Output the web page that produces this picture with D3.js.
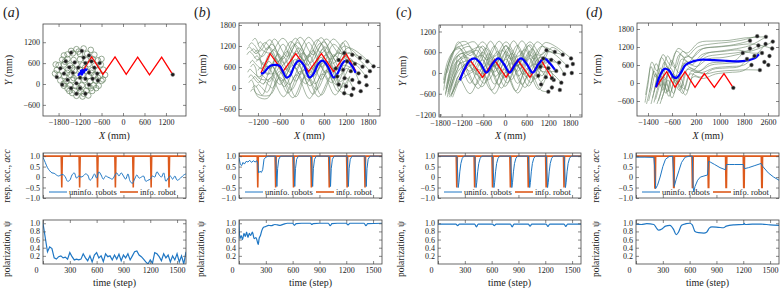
<!DOCTYPE html>
<html><head><meta charset="utf-8">
<script src="https://cdn.jsdelivr.net/npm/d3@7"></script>
<style>
body{margin:0;background:#fff;}
text{font-family:"Liberation Serif","Times New Roman",serif;}
</style></head><body>
<script>
// ---------------- data: trajectories (mm) ----------------
// (a) looping robots: loop centres, final robot positions, informed robot path, group path
const loopsA = [[-1300,1000],[-1100,1020],[-900,980],[-1550,850],[-1400,880],[-1200,860],[-1000,870],[-800,840],
  [-1700,700],[-1550,720],[-1380,690],[-1200,710],[-1030,690],[-850,720],[-700,680],
  [-1800,540],[-1650,560],[-1480,530],[-1300,560],[-1130,540],[-960,570],[-780,530],[-620,560],
  [-1850,400],[-1700,380],[-1530,410],[-1360,390],[-1200,410],[-1030,380],[-860,400],[-700,390],[-550,410],
  [-1800,250],[-1640,230],[-1470,260],[-1300,240],[-1130,260],[-960,230],[-800,250],[-640,240],[-500,260],
  [-1750,100],[-1580,80],[-1420,110],[-1250,90],[-1080,110],[-920,80],[-760,100],[-600,90],
  [-1650,-50],[-1480,-40],[-1320,-60],[-1150,-40],[-980,-60],[-820,-40],[-680,-50],
  [-1500,-200],[-1350,-190],[-1180,-210],[-1020,-190],[-860,-200],[-1300,-340],[-1130,-360],[-970,-330],
  [-1450,950],[-1650,820],[-1880,560],[-1900,300],[-1550,-130],[-750,-120],[-560,130],[-600,720],
  [-1240,930],[-1620,640],[-1420,460],[-1060,470],[-1560,320],[-880,320],[-1380,170],[-700,180],
  [-1660,10],[-1220,-120],[-900,-120],[-1420,-260],[-1100,-280]];
const robotsA = [[-1450,900],[-1150,950],[-950,820],[-1600,650],[-1350,620],[-1100,760],[-880,650],[-1750,450],
  [-1500,480],[-1250,470],[-1050,600],[-800,470],[-650,600],[-1650,300],[-1400,320],[-1200,180],[-950,330],
  [-720,300],[-1550,120],[-1300,20],[-1050,150],[-850,150],[-1700,-20],[-1450,-120],[-1200,-120],[-950,-20],
  [-1300,-280],[-1050,-280],[-700,100],[-1850,200],[1390,270]];
const leaderA = [[-1150,330],[-875,780],[-560,275],[-223,780],[90,275],[410,770],[740,265],[1080,770],[1390,270]];
const groupA = [[-1250,230],[-1200,320],[-1150,270],[-1120,400],[-1180,380],[-1100,330],[-1050,420],[-1000,390]];

// (b)
const greenB = [
 [[-1450,1200],[-1380,1290],[-1300,1230],[-1150,1050],[-880,1380],[-540,820],[-180,1420],[170,880],[520,1440],[870,900],[1180,1350],[1370,950]],
 [[-1500,950],[-1430,1040],[-1360,980],[-1200,800],[-900,1180],[-560,620],[-200,1250],[150,650],[500,1280],[850,700],[1150,1200],[1580,860]],
 [[-1420,700],[-1350,790],[-1290,720],[-1100,560],[-860,1000],[-500,420],[-150,1050],[200,430],[560,1100],[900,480],[1220,1000],[1780,760]],
 [[-1480,450],[-1420,540],[-1350,470],[-1150,320],[-900,760],[-550,200],[-180,820],[170,220],[520,880],[860,260],[1200,800],[1650,610]],
 [[-1350,250],[-1290,330],[-1230,260],[-1050,120],[-820,620],[-480,40],[-130,680],[220,60],[580,720],[920,100],[1200,560],[1330,480]],
 [[-1250,20],[-1190,100],[-1120,40],[-950,-120],[-700,420],[-380,-150],[-50,480],[300,-180],[650,500],[980,-100],[1200,300],[1400,-20]],
 [[-1400,1050],[-1320,1120],[-1250,1050],[-1080,900],[-820,1250],[-480,700],[-120,1300],[230,720],[600,1320],[940,760],[1260,1150],[1950,620]],
 [[-1300,850],[-1230,920],[-1170,860],[-1000,650],[-780,1100],[-430,520],[-90,1150],[270,540],[620,1180],[970,560],[1280,1000],[1850,480]],
 [[-1200,500],[-1140,580],[-1080,520],[-920,380],[-720,850],[-400,300],[-60,900],[300,320],[650,950],[1000,340],[1300,780],[1740,330]],
 [[-1150,300],[-1090,370],[-1030,310],[-880,180],[-680,650],[-350,100],[0,700],[350,120],[700,760],[1050,180],[1330,620],[1560,160]],
 [[-1050,100],[-1000,180],[-940,120],[-800,0],[-620,480],[-300,-60],[40,520],[400,-40],[740,560],[1080,20],[1300,330],[1200,50]],
 [[-1100,650],[-1050,730],[-990,680],[-850,560],[-650,980],[-330,450],[20,1000],[380,470],[730,1040],[1080,480],[1300,850],[1440,690]],
 [[-1500,1100],[-1440,1180],[-1380,1120],[-1250,980],[-1000,1300],[-650,750],[-300,1330],[60,780],[420,1380],[780,820],[1120,1300],[1230,760]],
 [[-1350,0],[-1290,70],[-1230,10],[-1080,-200],[-850,300],[-500,-250],[-150,380],[200,-300],[560,400],[900,-200],[1150,150],[1150,-150]],
 [[-1200,1250],[-1140,1320],[-1080,1260],[-950,1100],[-750,1400],[-400,900],[-50,1450],[300,950],[660,1400],[1000,1000],[1150,1000]],
 [[-1450,300],[-1390,380],[-1330,310],[-1180,150],[-950,620],[-600,100],[-250,650],[100,120],[450,700],[800,150],[1120,650],[1540,420]],
 [[-1400,600],[-1330,680],[-1260,560],[-1200,300],[-900,250],[-520,900],[-170,200],[180,950],[530,250],[860,950],[1100,600],[1160,280]],
 [[-1300,1000],[-1230,1080],[-1170,990],[-1100,700],[-870,600],[-520,1250],[-170,550],[180,1300],[530,600],[860,1250],[1230,760]],
 [[-1450,150],[-1380,230],[-1320,120],[-1250,-150],[-870,-200],[-520,500],[-170,-250],[180,550],[530,-200],[860,500],[1000,100]],
 [[-1350,1350],[-1280,1420],[-1220,1330],[-1150,1150],[-870,1000],[-520,1420],[-170,950],[180,1450],[530,1000],[860,1400],[1150,1000]],
 [[-1250,750],[-1180,830],[-1120,720],[-1050,480],[-750,420],[-400,1050],[-50,380],[300,1080],[650,420],[960,1000],[1440,690]],
 [[-1400,-100],[-1330,-20],[-1270,-130],[-1200,-250],[-950,-300],[-600,300],[-250,-280],[100,350],[450,-250],[800,350],[1050,-100],[1350,-200]]
];
const robotsB = [[1150,1000],[1370,950],[1580,860],[1780,760],[1950,620],[1000,800],[1230,760],[1440,690],[1650,610],
  [1850,480],[920,560],[1120,520],[1330,480],[1540,420],[1740,330],[960,330],[1160,280],[1370,230],[1560,160],
  [1760,80],[1000,100],[1200,50],[1400,-20],[1600,-90],[1150,-150],[1350,-200]];
const leaderB = [[-1120,430],[-870,980],[-520,470],[-170,980],[180,470],[530,980],[860,470],[1200,980],[1470,480]];
const groupB = [[-1120,420],[-1050,430],[-950,550],[-850,640],[-700,660],[-600,620],[-500,420],[-430,300],[-330,350],
  [-200,650],[-80,780],[50,650],[200,300],[300,380],[450,700],[560,780],[700,620],[860,300],[950,380],[1100,700],
  [1200,780],[1350,650],[1460,430]];

// (c)
const greenC = [
 [[-1700,-500],[-1580,200],[-1420,650],[-1250,880],[-1070,900],[-720,320],[-400,920],[-80,330],[240,930],[570,340],[890,900],[1150,660]],
 [[-1650,-650],[-1540,0],[-1400,450],[-1180,700],[-970,760],[-620,150],[-290,780],[20,160],[340,800],[670,170],[990,760],[1380,610]],
 [[-1600,-700],[-1480,-150],[-1320,300],[-1100,560],[-890,600],[-540,0],[-210,620],[100,20],[420,640],[750,20],[1070,600],[1610,520]],
 [[-1560,-600],[-1450,-200],[-1300,150],[-1200,400],[-1030,450],[-680,-150],[-350,470],[-40,-140],[290,480],[610,-130],[940,440],[1280,380]],
 [[-1500,-700],[-1400,-350],[-1250,0],[-1100,250],[-930,300],[-580,-300],[-250,320],[60,-290],[390,330],[710,-280],[1040,290],[1500,300]],
 [[-1450,-700],[-1360,-450],[-1250,-150],[-1150,100],[-1090,150],[-740,-450],[-420,170],[-100,-440],[230,180],[550,-420],[880,150],[1200,140]],
 [[-1680,-300],[-1560,300],[-1380,700],[-1100,820],[-850,900],[-500,380],[-160,920],[160,400],[470,930],[800,400],[1120,880],[1830,420]],
 [[-1620,-500],[-1500,0],[-1330,350],[-1000,550],[-770,650],[-420,60],[-80,670],[220,70],[550,680],[870,80],[1200,620],[1720,200]],
 [[-1550,-650],[-1440,-300],[-1300,50],[-1050,300],[-810,400],[-460,-200],[-120,420],[180,-190],[510,430],[830,-180],[1150,380],[1420,60]],
 [[-1520,-500],[-1430,-200],[-1320,100],[-1240,300],[-1170,250],[-820,-350],[-480,280],[-180,-340],[150,290],[470,-330],[800,260],[1130,-120]],
 [[-1640,-450],[-1530,50],[-1400,400],[-1250,550],[-1130,550],[-780,-50],[-440,560],[-140,-40],[190,570],[510,-40],[840,540],[1060,420]],
 [[-1480,-650],[-1380,-400],[-1230,-200],[-950,0],[-720,100],[-370,-500],[-30,120],[300,-520],[600,130],[940,-480],[1250,80],[1350,-200]],
 [[-1580,-300],[-1460,200],[-1300,500],[-950,650],[-670,750],[-320,200],[20,780],[330,200],[650,790],[980,220],[1300,740],[1600,530]],
 [[-1460,-600],[-1350,-300],[-1200,-50],[-1050,150],[-990,200],[-640,-400],[-310,220],[0,-390],[330,230],[650,-380],[980,200],[1560,-280]],
 [[-1580,-550],[-1460,-100],[-1280,250],[-900,400],[-620,500],[-260,-100],[80,520],[380,-90],[700,530],[1020,-80],[1300,400],[1640,-30]],
 [[-1700,-200],[-1600,300],[-1450,600],[-1300,700],[-1220,700],[-870,100],[-530,720],[-230,110],[100,730],[420,120],[750,700],[980,180]],
 [[-1700,-300],[-1550,300],[-1290,750],[-970,200],[-620,780],[-290,180],[30,800],[351,200],[690,820],[997,250],[1280,380]],
 [[-1650,-600],[-1500,-100],[-1290,350],[-970,-300],[-620,380],[-290,-320],[30,400],[351,-300],[690,420],[997,-250],[1200,140]],
 [[-1600,0],[-1450,500],[-1290,900],[-970,500],[-620,900],[-290,480],[30,900],[351,480],[690,900],[997,520],[1150,660]],
 [[-1550,-700],[-1400,-450],[-1290,-100],[-970,-600],[-620,0],[-290,-600],[30,20],[351,-580],[690,0],[997,-500],[1200,-540]],
 [[-1500,-400],[-1380,50],[-1290,500],[-970,50],[-620,600],[-290,30],[30,620],[351,50],[690,620],[997,60],[1420,60]]
];
const robotsC = [[1150,660],[1380,610],[1600,530],[1830,420],[1060,420],[1280,380],[1500,300],[1720,200],[1880,260],
  [980,180],[1200,140],[1420,60],[1640,-30],[1850,0],[920,-80],[1130,-120],[1350,-200],[1560,-280],[1000,-330],
  [1300,-420],[1200,-540],[1520,-490],[1300,-150]];
const leaderC = [[-1250,-170],[-970,376],[-620,-125],[-290,376],[30,-125],[351,376],[690,-125],[997,376],[1300,-150]];
const groupC = [[-1250,-210],[-1120,120],[-980,360],[-830,420],[-680,280],[-510,10],[-350,260],[-185,420],[-30,260],
  [130,10],[290,260],[445,420],[600,260],[770,10],[930,260],[1090,420],[1240,280],[1390,80]];

// (d)
const greenD = [
 [[-1500,-650],[-1400,-50],[-1300,550],[-1150,200],[-950,850],[-700,450],[-450,1050],[-150,850],[250,1200],[700,1300],[1200,1350],[1700,1420],[2240,1560]],
 [[-1450,-700],[-1330,-200],[-1200,400],[-1050,50],[-850,700],[-600,250],[-350,950],[-50,700],[300,1100],[800,1200],[1300,1250],[1700,1330],[2000,1410]],
 [[-1380,-600],[-1270,-150],[-1150,300],[-980,-100],[-780,550],[-520,100],[-270,800],[50,600],[400,950],[900,1050],[1400,1120],[2000,1250],[2530,1540]],
 [[-1300,-700],[-1200,-300],[-1080,200],[-900,-250],[-700,400],[-450,-50],[-200,650],[120,450],[500,850],[1000,950],[1500,1000],[2000,1100],[2280,1250]],
 [[-1250,-500],[-1150,-100],[-1030,350],[-850,-100],[-650,500],[-400,0],[-150,700],[200,550],[600,800],[1100,850],[1600,950],[2300,1150],[2760,1380]],
 [[-1200,-650],[-1100,-250],[-980,100],[-800,-350],[-600,200],[-350,-250],[-100,450],[250,350],[650,650],[1100,700],[1500,750],[1760,1000]],
 [[-1150,-550],[-1050,-200],[-930,250],[-750,-300],[-550,300],[-300,-150],[-50,500],[300,400],[700,600],[1200,650],[1700,700],[2100,850],[2520,1300]],
 [[-1100,-700],[-1000,-400],[-880,0],[-700,-450],[-500,100],[-250,-350],[0,300],[350,200],[750,450],[1200,500],[1650,550],[1900,800]],
 [[-1050,-600],[-950,-250],[-830,150],[-650,-300],[-450,250],[-200,-200],[50,400],[400,350],[800,500],[1300,550],[1800,600],[2150,900]],
 [[-1000,-700],[-900,-400],[-780,-50],[-600,-500],[-400,0],[-150,-400],[100,200],[450,150],[850,300],[1300,350],[1750,400],[2050,600]],
 [[-1480,-400],[-1380,200],[-1270,700],[-1100,400],[-900,950],[-650,600],[-400,1150],[-100,1000],[300,1350],[800,1400],[1300,1420],[1800,1500],[2530,1540]],
 [[-950,-550],[-850,-250],[-730,100],[-550,-350],[-350,200],[-100,-250],[150,350],[500,300],[900,380],[1400,420],[1900,440],[2330,430]],
 [[-1350,-300],[-1250,200],[-1130,650],[-950,300],[-750,900],[-500,500],[-250,1050],[50,850],[450,1150],[950,1200],[1450,1250],[2100,1300],[2740,1150]],
 [[-1200,-300],[-1100,100],[-990,500],[-820,150],[-620,750],[-380,350],[-120,900],[200,750],[600,1000],[1100,1050],[1600,1100],[2050,1000],[2400,1000]]
];
const robotsD = [[2000,1410],[2240,1560],[2530,1540],[2760,1380],[1760,1000],[2000,1150],[2280,1250],[2520,1300],
  [2740,1150],[1900,800],[2150,900],[2400,1000],[2650,900],[2050,600],[2330,430],[2610,600],[2480,700],[1444,-160]];
const leaderD = [[-1133,-144],[-778,378],[-500,-144],[-167,378],[167,-144],[478,311],[811,-144],[1133,311],[1444,-160]];
const groupD = [[-1133,-144],[-1000,250],[-850,470],[-700,420],[-550,200],[-450,170],[-300,350],[-150,600],[100,720],
  [400,780],[800,760],[1200,740],[1600,720],[1900,750],[2150,820],[2300,960]];

// ---------------- data: time series ----------------
const stepsA = d3.range(0, 1601, 25);
const respUninfA = [0.95,0.7,0.45,0.3,0.2,0.18,0.1,0.05,0.1,0.12,
  0.0,-0.2,-0.15,0.1,0.2,-0.05,0.05,0.0,0.05,0.15,
  0.1,-0.15,-0.05,0.15,-0.05,0.25,0.1,-0.1,0.05,0.0,
  -0.05,-0.1,0.05,0.2,0.05,0.2,0.05,-0.1,0.15,-0.2,
  -0.3,-0.1,0.1,-0.05,0.0,0.05,-0.2,-0.15,-0.1,0.05,
  0.0,0.25,0.1,0.0,0.2,-0.2,-0.05,0.05,-0.1,0.05,
  -0.15,-0.1,0.0,0.1,0.15];
const polarA = [1.0,0.65,0.3,0.42,0.38,0.15,0.12,0.18,0.2,0.15,
  0.17,0.12,0.28,0.18,0.1,0.12,0.1,0.12,0.25,0.15,
  0.08,0.2,0.05,0.22,0.28,0.15,0.2,0.06,0.25,0.18,
  0.2,0.1,0.22,0.12,0.24,0.08,0.22,0.15,0.25,0.1,
  0.2,0.3,0.32,0.22,0.18,0.12,0.05,0.0,0.1,0.02,
  0.28,0.25,0.18,0.08,0.25,0.15,0.22,0.05,0.2,0.1,
  0.25,0.05,0.2,0.0,0.3];

const respInfo = [[0,1],[204,1],[210,-0.5],[216,1],[404,1],[410,-0.5],[416,1],[604,1],[610,-0.5],[616,1],
  [804,1],[810,-0.5],[816,1],[1004,1],[1010,-0.5],[1016,1],[1204,1],[1210,-0.5],[1216,1],[1404,1],[1410,-0.5],[1416,1],[1600,1]];
const respInfoD = [[0,1],[206,1],[211,-0.55],[216,-0.5],[220,1],[416,1],[421,-0.5],[426,-0.5],[430,1],[626,1],[631,-0.5],[636,-0.5],[640,1],
  [804,1],[809,-0.5],[814,-0.5],[818,1],[1002,1],[1007,-0.5],[1012,-0.5],[1016,1],[1200,1],[1205,-0.5],[1210,-0.5],[1214,1],
  [1402,1],[1407,-0.5],[1412,-0.5],[1416,1],[1600,1]];

const respUninfB = [[0,0.92],[15,0.6],[30,0.55],[45,0.7],[60,0.62],[80,0.75],[100,0.72],[120,0.8],[140,0.7],[160,0.78],
  [180,0.72],[200,0.78],[212,0.6],[220,0.2],[235,0.28],[250,0.22],[265,0.35],[280,0.85],[300,0.95],[330,1],
  [410,1],[418,0.3],[424,-0.45],[432,0.4],[445,0.85],[465,1],[610,1],[618,0.3],[624,-0.45],[632,0.4],[645,0.85],[665,1],
  [810,1],[818,0.3],[824,-0.45],[832,0.4],[845,0.85],[865,1],[1010,1],[1018,0.3],[1024,-0.45],[1032,0.4],[1045,0.85],[1065,1],
  [1210,1],[1218,0.3],[1224,-0.45],[1232,0.4],[1245,0.85],[1265,1],[1410,1],[1418,0.3],[1424,-0.45],[1432,0.4],[1445,0.85],[1465,1],[1600,1]];
const polarB = [[0,1],[10,0.62],[25,0.7],[40,0.6],[55,0.75],[70,0.68],[85,0.78],[100,0.65],[115,0.75],[130,0.7],[150,0.78],
  [170,0.62],[190,0.65],[205,0.55],[215,0.48],[225,0.62],[240,0.7],[255,0.82],[275,0.9],[300,0.92],[330,0.95],[360,0.94],
  [400,0.97],[430,0.96],[460,0.95],[500,0.98],[540,1],[600,1],[620,0.95],[640,0.99],[700,1],[800,1],[815,0.97],[830,0.99],
  [900,1],[1000,1],[1020,0.94],[1040,0.99],[1100,1],[1200,1],[1220,0.96],[1240,1],[1400,1],[1420,0.94],[1440,0.99],[1600,1]];

const respUninfC = [[0,1],[212,1],[220,0.2],[226,-0.5],[234,-0.25],[244,0.25],[256,0.65],[272,0.9],[292,1],
  [412,1],[420,0.2],[426,-0.5],[434,-0.25],[444,0.25],[456,0.65],[472,0.9],[492,1],
  [612,1],[620,0.2],[626,-0.5],[634,-0.25],[644,0.25],[656,0.65],[672,0.9],[692,1],
  [812,1],[820,0.2],[826,-0.5],[834,-0.25],[844,0.25],[856,0.65],[872,0.9],[892,1],
  [1012,1],[1020,0.2],[1026,-0.5],[1034,-0.25],[1044,0.25],[1056,0.65],[1072,0.9],[1092,1],
  [1212,1],[1220,0.2],[1226,-0.5],[1234,-0.25],[1244,0.25],[1256,0.65],[1272,0.9],[1292,1],
  [1412,1],[1420,0.2],[1426,-0.5],[1434,-0.25],[1444,0.25],[1456,0.65],[1472,0.9],[1492,1],[1600,1]];
const polarC = [[0,0.98],[200,0.98],[220,0.94],[240,0.98],[410,0.98],[430,0.91],[450,0.98],[610,0.98],[630,0.94],[650,0.98],
  [810,0.98],[830,0.91],[850,0.98],[1010,0.98],[1030,0.93],[1050,0.98],[1210,0.98],[1230,0.92],[1250,0.98],
  [1410,0.98],[1430,0.92],[1450,0.98],[1600,0.98]];

const respUninfD = [[0,0.95],[100,0.95],[200,0.94],[212,0.3],[220,-0.55],[240,-0.4],[270,0],[300,0.5],[330,0.85],[370,0.98],
  [410,1],[420,0.2],[428,-0.45],[450,-0.1],[480,0.3],[510,0.7],[550,0.95],[600,1],[630,1],[640,-0.5],[648,-0.7],[660,-0.45],
  [690,-0.15],[720,0.0],[760,0.05],[800,0.1],[812,0.75],[830,0.72],[880,0.6],[940,0.45],[1000,0.35],[1012,0.6],[1050,0.6],
  [1100,0.6],[1200,0.6],[1212,0.4],[1260,0.45],[1330,0.55],[1400,0.65],[1420,0.5],[1480,0.2],[1540,0.0],[1600,-0.15]];
const polarD = [[0,0.98],[60,0.97],[120,0.99],[200,0.97],[230,0.88],[255,0.83],[290,0.86],[330,0.93],[380,0.95],[420,0.85],
  [450,0.72],[475,0.78],[510,0.95],[560,0.99],[600,1.0],[630,0.96],[660,0.8],[700,0.77],[760,0.76],[790,0.78],[820,0.88],
  [850,0.91],[920,0.9],[980,0.89],[1010,0.93],[1100,0.96],[1200,0.97],[1210,1.0],[1220,0.97],[1300,0.98],[1400,0.98],
  [1500,0.96],[1600,0.95]];

const timeTicks = [0, 300, 600, 900, 1200, 1500];
const respTicks = [-1, -0.5, 0, 0.5, 1];
const polarTicks = [0.2, 0.4, 0.6, 0.8, 1.0];

// ---------------- layout ----------------
const panels = [
  {key:"a", lab:8, top:[43,186,24,116], xd:[-2235,1760], yd:[-920,1724], xt:[-1800,-1200,-600,0,600,1200], yt:[-600,0,600,1200],
   green:null, loops:loopsA, robots:robotsA, leader:leaderA, group:groupA,
   bx:[43,186], resp:stepsA.map((t,i)=>[t,respUninfA[i]]), info:respInfo, polar:stepsA.map((t,i)=>[t,polarA[i]]), smooth:true},
  {key:"b", lab:202, top:[239,380,23,116], xd:[-1717,2125], yd:[-800,1857], xt:[-1200,-600,0,600,1200,1800], yt:[-600,0,600,1200,1800],
   green:greenB, robots:robotsB, leader:leaderB, group:groupB, bx:[239,382], resp:respUninfB, info:respInfo, polar:polarB},
  {key:"c", lab:402, top:[439,582,25,117], xd:[-1828,2133], yd:[-1272,1387], xt:[-1800,-1200,-600,0,600,1200,1800], yt:[-1200,-600,0,600,1200],
   green:greenC, robots:robotsC, leader:leaderC, group:groupC, bx:[438,581], resp:respUninfC, info:respInfo, polar:polarC},
  {key:"d", lab:597, top:[637,779,23,116], xd:[-1767,2967], yd:[-1100,2000], xt:[-1400,-600,200,1000,1800,2600], yt:[-600,0,600,1200,1800],
   green:greenD, robots:robotsD, leader:leaderD, group:groupD, bx:[636,779], resp:respUninfD, info:respInfoD, polar:polarD}
];
const letterX = {a:3, b:194, c:396, d:586};

const svg = d3.select("body").append("svg").attr("width", 780).attr("height", 289)
  .style("background", "#fff");
const FONT = "Liberation Serif, Times New Roman, serif";
const greenCol = "#6a8566", blueUn = "#1f77c4", orange = "#dd5a1c";
const TICK = 8;

const fmt = d3.format("");
function styleAxis(g) {
  g.select(".domain").remove();
  g.attr("font-family", FONT).attr("font-size", TICK).attr("color", "#222");
  g.selectAll(".tick line").attr("stroke", "#555").attr("stroke-width", 0.7);
}
function frame(x0, x1, y0, y1) {
  svg.append("rect").attr("x", x0).attr("y", y0).attr("width", x1 - x0).attr("height", y1 - y0)
    .attr("fill", "none").attr("stroke", "#444").attr("stroke-width", 0.8);
}
function clip(id, x0, x1, y0, y1) {
  svg.append("clipPath").attr("id", id).append("rect")
    .attr("x", x0).attr("y", y0).attr("width", x1 - x0).attr("height", y1 - y0);
  return svg.append("g").attr("clip-path", `url(#${id})`);
}
function boxAxes(x, y, xt, yt, x0, x1, y0, y1, xfmt, yfmt, showX, cls) {
  svg.append("g").attr("class", cls).attr("transform", `translate(0,${y1})`)
    .call(d3.axisBottom(x).tickValues(xt).tickSizeInner(-3).tickSizeOuter(0).tickPadding(3).tickFormat(showX ? xfmt : ""))
    .call(styleAxis);
  svg.append("g").attr("transform", `translate(0,${y0})`)
    .call(d3.axisTop(x).tickValues(xt).tickSizeInner(-3).tickSizeOuter(0).tickFormat(""))
    .call(styleAxis);
  svg.append("g").attr("transform", `translate(${x0},0)`)
    .call(d3.axisLeft(y).tickValues(yt).tickSizeInner(-3).tickSizeOuter(0).tickPadding(3).tickFormat(yfmt))
    .call(styleAxis);
  svg.append("g").attr("transform", `translate(${x1},0)`)
    .call(d3.axisRight(y).tickValues(yt).tickSizeInner(-3).tickSizeOuter(0).tickFormat(""))
    .call(styleAxis);
  frame(x0, x1, y0, y1);
}

panels.forEach(p => {
  // ---------- trajectory plot ----------
  const [x0, x1, y0, y1] = p.top;
  const x = d3.scaleLinear().domain(p.xd).range([x0, x1]);
  const y = d3.scaleLinear().domain(p.yd).range([y1, y0]);
  const g = clip("clipT" + p.key, x0, x1, y0, y1);
  const smoothLine = d3.line().x(d => x(d[0])).y(d => y(d[1])).curve(d3.curveCatmullRom.alpha(0.5));
  const straight = d3.line().x(d => x(d[0])).y(d => y(d[1]));

  if (p.loops) {
    g.selectAll("circle.loop").data(p.loops).join("circle").attr("class", "loop")
      .attr("cx", d => x(d[0])).attr("cy", d => y(d[1])).attr("r", 2.8)
      .attr("fill", "none").attr("stroke", greenCol).attr("stroke-width", 0.7);
  }
  if (p.green) {
    g.selectAll("path.green").data(p.green).join("path").attr("class", "green")
      .attr("d", smoothLine).attr("fill", "none").attr("stroke", greenCol).attr("stroke-width", 0.6);
  }
  g.append("path").datum(p.leader).attr("d", straight)
    .attr("fill", "none").attr("stroke", "#ff0000").attr("stroke-width", 1.3);
  g.append("path").datum(p.group).attr("d", smoothLine)
    .attr("fill", "none").attr("stroke", "#0000ff").attr("stroke-width", 2.2);
  g.selectAll("circle.robot").data(p.robots).join("circle").attr("class", "robot")
    .attr("cx", d => x(d[0])).attr("cy", d => y(d[1])).attr("r", 1.9)
    .attr("fill", "#1b1b1b").attr("stroke", "#888").attr("stroke-width", 0.5);

  boxAxes(x, y, p.xt, p.yt, x0, x1, y0, y1, fmt, fmt, true, "xaxis");

  svg.append("text").attr("x", (x0 + x1) / 2).attr("y", 139).attr("text-anchor", "middle")
    .attr("font-size", 10).attr("fill", "#222")
    .call(t => { t.append("tspan").attr("font-style", "italic").text("X"); t.append("tspan").text(" (mm)"); });
  svg.append("text").attr("transform", `translate(${p.lab + 4},${(y0 + y1) / 2}) rotate(-90)`).attr("text-anchor", "middle")
    .attr("font-size", 10).attr("fill", "#222")
    .call(t => { t.append("tspan").attr("font-style", "italic").text("Y"); t.append("tspan").text(" (mm)"); });

  svg.append("text").attr("x", letterX[p.key]).attr("y", 17).attr("font-size", 14).attr("fill", "#222")
    .call(t => { t.append("tspan").text("("); t.append("tspan").attr("font-style", "italic").text(p.key); t.append("tspan").text(")"); });

  // ---------- response accuracy ----------
  const [bx0, bx1] = p.bx;
  const tx = d3.scaleLinear().domain([0, 1600]).range([bx0, bx1]);
  const ry = d3.scaleLinear().domain([-1, 1.15]).range([198, 153]);
  const rg = clip("clipR" + p.key, bx0, bx1, 153, 198);
  const respLine = d3.line().x(d => tx(d[0])).y(d => ry(d[1]));
  rg.append("path").datum(p.info).attr("d", respLine)
    .attr("fill", "none").attr("stroke", orange).attr("stroke-width", 1.6);
  rg.append("path").datum(p.resp).attr("d", p.smooth ? respLine.curve(d3.curveCatmullRom) : respLine)
    .attr("fill", "none").attr("stroke", blueUn).attr("stroke-width", 1);
  const rfmt = d => d === 0 ? "0" : d3.format(".1f")(d);
  boxAxes(tx, ry, timeTicks, respTicks, bx0, bx1, 153, 198, fmt, rfmt, false, "raxis");

  // legend
  const ly = 192;
  svg.append("line").attr("x1", bx0 + 6).attr("x2", bx0 + 24).attr("y1", ly).attr("y2", ly)
    .attr("stroke", blueUn).attr("stroke-width", 1);
  svg.append("text").attr("x", bx0 + 26).attr("y", ly + 3).attr("font-size", 8.5).attr("fill", "#222").text("uninfo. robots");
  svg.append("line").attr("x1", bx0 + 77).attr("x2", bx0 + 95).attr("y1", ly).attr("y2", ly)
    .attr("stroke", orange).attr("stroke-width", 1.6);
  svg.append("text").attr("x", bx0 + 97).attr("y", ly + 3).attr("font-size", 8.5).attr("fill", "#222").text("info. robot");

  svg.append("text").attr("transform", `translate(${p.lab + 2},176) rotate(-90)`).attr("text-anchor", "middle")
    .attr("font-size", 9.5).attr("fill", "#222")
    .call(t => { t.append("tspan").text("resp. acc., "); t.append("tspan").attr("font-style", "italic").text("acc"); });

  // ---------- polarization ----------
  const py = d3.scaleLinear().domain([0, 1.08]).range([264, 220]);
  const pg = clip("clipP" + p.key, bx0, bx1, 220, 264);
  const polLine = d3.line().x(d => tx(d[0])).y(d => py(d[1]));
  pg.append("path").datum(p.polar).attr("d", p.smooth ? polLine : polLine.curve(d3.curveMonotoneX))
    .attr("fill", "none").attr("stroke", blueUn).attr("stroke-width", 1.2);
  boxAxes(tx, py, timeTicks, polarTicks, bx0, bx1, 220, 264, fmt, d3.format(".1f"), true, "taxis");

  svg.append("text").attr("transform", `translate(${p.lab + 2},249) rotate(-90)`).attr("text-anchor", "middle")
    .attr("font-size", 9.5).attr("fill", "#222").text("polarization, ψ");
  svg.append("text").attr("x", (bx0 + bx1) / 2).attr("y", 286).attr("text-anchor", "middle")
    .attr("font-size", 10).attr("fill", "#222").text("time (step)");
});
// the time axis "0" label sits a little left of the frame corner
svg.selectAll("g.taxis g.tick").filter(d => d === 0).select("text").attr("dx", -7);
</script></body></html>
